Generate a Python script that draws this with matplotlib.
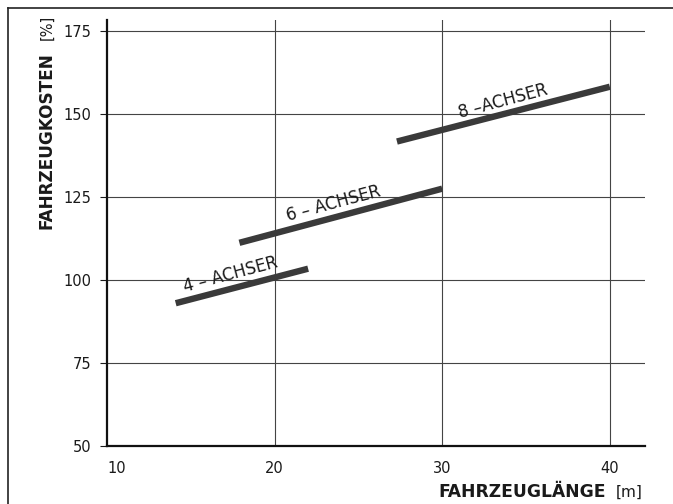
import matplotlib
matplotlib.use("Agg")
import matplotlib.pyplot as plt
from matplotlib.lines import Line2D

plt.rcParams['font.family'] = ['DejaVu Sans']

# Data
series_names = ["4 \u2013 ACHSER", "6 \u2013 ACHSER", "8 \u2013ACHSER"]
x_start = [14.1, 17.9, 27.3]
x_end = [22.0, 30.0, 40.0]
y_start = [93.0, 111.2, 141.7]
y_end = [103.4, 127.5, 158.2]
label_x = [17.4, 23.5, 33.6]
label_y = [101.6, 122.9, 153.9]
x_ticks = [10, 20, 30, 40]
y_ticks = [50, 75, 100, 125, 150, 175]

W, H = 673, 504
fig = plt.figure(figsize=(W / 100, H / 100), dpi=100)
ax = fig.add_axes([107 / W, 1 - 446 / H, (645 - 107) / W, (446 - 20) / H])

ax.set_xlim(10, 42.1)
ax.set_ylim(50, 178.3)

# grid
for xv in x_ticks[1:]:
    ax.axvline(xv, color='#444444', lw=0.8, zorder=1)
for yv in y_ticks[1:]:
    ax.axhline(yv, color='#444444', lw=0.8, zorder=1)

for xs, xe, ys, ye in zip(x_start, x_end, y_start, y_end):
    ax.plot([xs, xe], [ys, ye], color='#3a3a3a', lw=4.6, solid_capstyle='butt', zorder=3)

for name, lx, ly in zip(series_names, label_x, label_y):
    ax.text(lx, ly, name, fontsize=12, rotation=15, ha='center', va='center',
            rotation_mode='anchor', color='#1a1a1a', zorder=4)

for s in ['top', 'right']:
    ax.spines[s].set_visible(False)
for s in ['left', 'bottom']:
    ax.spines[s].set_linewidth(1.6)
    ax.spines[s].set_color('#111111')

ax.set_xticks(x_ticks)
ax.set_yticks(y_ticks)
ax.set_xticklabels([str(v) for v in x_ticks])
ax.set_yticklabels([str(v) for v in y_ticks])
ax.tick_params(axis='x', length=0, pad=11, labelsize=10.5, colors='#1a1a1a')
ax.tick_params(axis='y', length=5, width=0.8, pad=6, labelsize=10.5, colors='#1a1a1a')
ax.get_xticklabels()[0].set_horizontalalignment('left')

# axis titles
fig.text(47 / W, 1 - 15 / H, "[%]", rotation=90, ha='center', va='top', fontsize=10.5, color='#1a1a1a')
fig.text(47 / W, 1 - 52 / H, "FAHRZEUGKOSTEN", rotation=90, ha='center', va='top',
         fontsize=12.2, fontweight='bold', color='#1a1a1a')
fig.text(643 / W, 1 - 492 / H, "[m]", ha='right', va='center', fontsize=11, color='#1a1a1a')
fig.text(606 / W, 1 - 492 / H, "FAHRZEUGL\u00c4NGE", ha='right', va='center',
         fontsize=12.3, fontweight='bold', color='#1a1a1a')

# frame border (left and top)
fig.add_artist(Line2D([8 / W, 8 / W], [0, 1 - 8 / H], transform=fig.transFigure, color='#222222', lw=1.2))
fig.add_artist(Line2D([8 / W, 1], [1 - 8 / H, 1 - 8 / H], transform=fig.transFigure, color='#222222', lw=1.2))

fig.savefig("out.png", dpi=100)
